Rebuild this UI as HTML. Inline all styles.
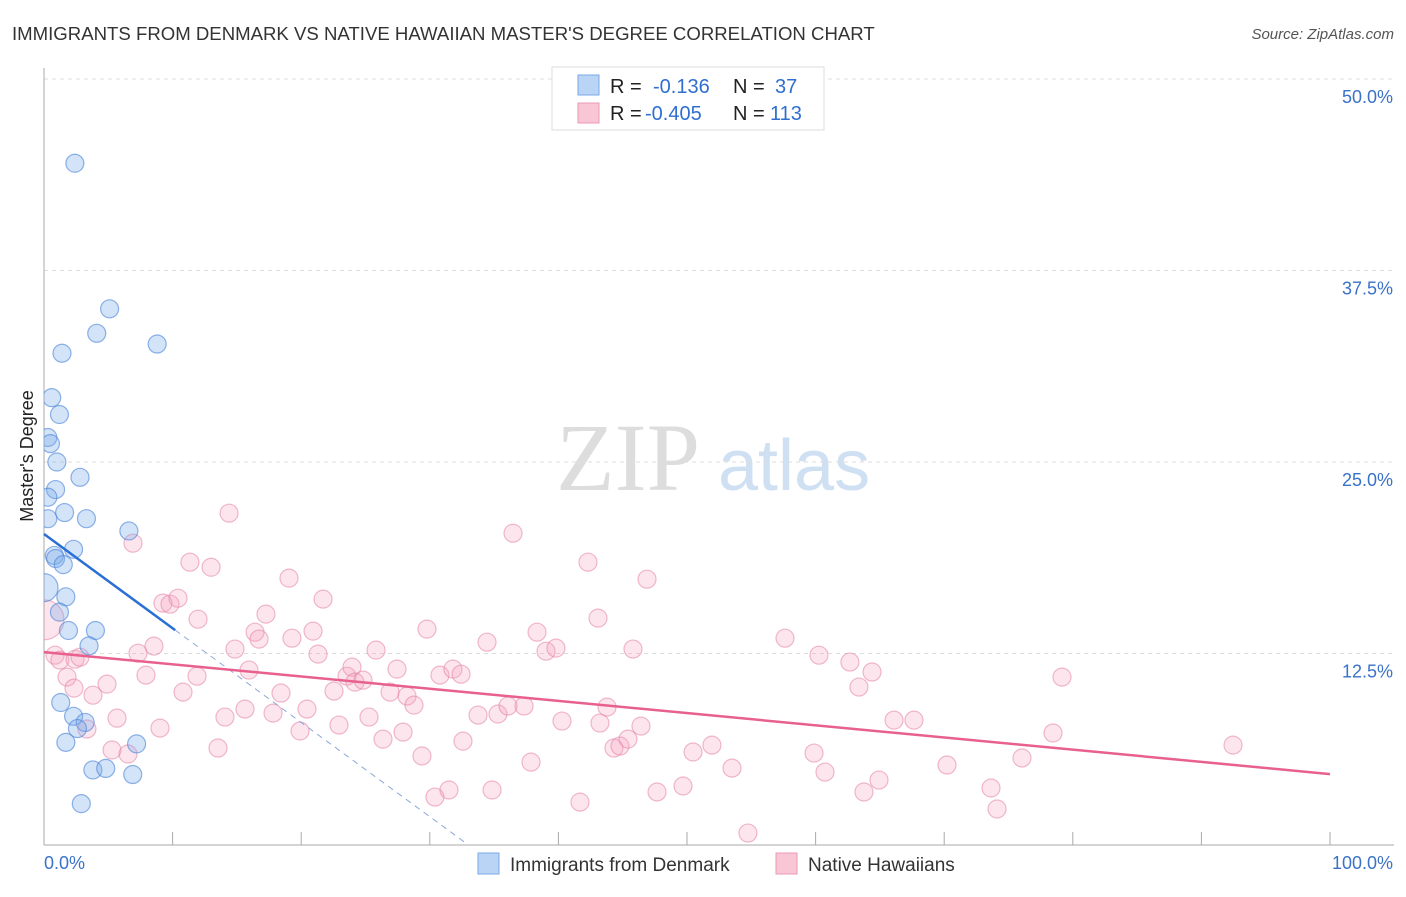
<!DOCTYPE html>
<html><head><meta charset="utf-8">
<style>
body{margin:0;background:#fff;font-family:"Liberation Sans",sans-serif;}
svg text{font-family:"Liberation Sans",sans-serif;}
</style></head>
<body>
<svg id="chart" width="1406" height="892">
<defs><clipPath id="plotclip"><rect x="44" y="60" width="1360" height="785"/></clipPath></defs>
<text x="12" y="40" font-size="18.6" fill="#333">IMMIGRANTS FROM DENMARK VS NATIVE HAWAIIAN MASTER'S DEGREE CORRELATION CHART</text>
<text x="1394" y="39" font-size="15" fill="#555" text-anchor="end" font-style="italic">Source: ZipAtlas.com</text>
<text x="700" y="490" font-size="96" fill="#ddd" text-anchor="end" style="font-family:'Liberation Serif',serif">ZIP</text>
<text x="718" y="490" font-size="72" fill="#cfe0f3">atlas</text>
<text transform="translate(33,456) rotate(-90)" font-size="18" fill="#222" text-anchor="middle">Master's Degree</text>
<g id="grid"></g><g id="axes"></g><g id="marks" clip-path="url(#plotclip)"></g><g id="trends"></g>
<g>
<rect x="552" y="67" width="272" height="63" fill="#fff" stroke="#ddd"/>
<rect x="578" y="75" width="21" height="20" fill="#b9d4f5" stroke="#7aaae6"/>
<rect x="578" y="103" width="21" height="20" fill="#f9c6d6" stroke="#eb9ab6"/>
<text x="610" y="93" font-size="20" fill="#222">R =</text><text x="653" y="93" font-size="20" fill="#2f6fd0">-0.136</text>
<text x="733" y="93" font-size="20" fill="#222">N =</text><text x="775" y="93" font-size="20" fill="#2f6fd0">37</text>
<text x="610" y="120" font-size="20" fill="#222">R =</text><text x="645" y="120" font-size="20" fill="#2f6fd0">-0.405</text>
<text x="733" y="120" font-size="20" fill="#222">N =</text><text x="770" y="120" font-size="20" fill="#2f6fd0">113</text>
</g>
<g>
<rect x="478" y="853" width="21" height="21" fill="#b9d4f5" stroke="#7aaae6"/>
<text x="510" y="871" font-size="19" fill="#333">Immigrants from Denmark</text>
<rect x="776" y="853" width="21" height="21" fill="#f9c6d6" stroke="#eb9ab6"/>
<text x="808" y="871" font-size="19" fill="#333">Native Hawaiians</text>
</g>
</svg>
<script>
const yTicks=[12.5,25.0,37.5,50.0];
const yTickLabels=["12.5%","25.0%","37.5%","50.0%"];
const xTicks=[0,10,20,30,40,50,60,70,80,90,100];
const xTickLabels=["0.0%","100.0%"];
const blueX=[2.4,5.1,4.1,8.8,1.4,0.6,1.2,0.3,0.5,1.0,2.8,0.9,0.3,1.6,3.3,0.3,6.6,2.3,0.8,0.9,1.5,0.0,1.7,1.2,1.9,4.0,3.5,1.3,2.3,3.2,2.6,1.7,7.2,3.8,4.8,6.9,2.9];
const blueY=[44.5,35.0,33.4,32.7,32.1,29.2,28.1,26.6,26.2,25.0,24.0,23.2,22.7,21.7,21.3,21.3,20.5,19.3,18.9,18.7,18.3,16.8,16.2,15.2,14.0,14.0,13.0,9.3,8.4,8.0,7.6,6.7,6.6,4.9,5.0,4.6,2.7];
const blueR=[9,9,9,9,9,9,9,9,9,9,9,9,9,9,9,9,9,9,9,9,9,14,9,9,9,9,9,9,9,9,9,9,9,9,9,9,9];
const pinkX=[0,0.86,1.24,2.41,2.8,1.79,2.33,3.81,4.9,3.34,5.68,5.29,6.53,7.93,8.55,9.02,7.31,6.92,9.25,9.8,10.42,11.35,11.98,12.99,10.81,11.9,14.39,13.53,14.07,14.85,15.63,15.94,16.41,16.72,17.26,17.81,18.43,19.05,19.28,19.91,20.45,20.92,21.31,21.7,22.55,22.94,23.56,23.95,24.18,24.81,25.27,25.82,26.36,26.91,27.45,27.92,28.23,28.77,29.39,29.78,30.4,30.79,31.49,31.8,32.43,32.58,33.75,34.45,34.84,35.3,36.08,36.47,37.33,37.87,38.34,39.04,39.81,40.28,41.68,42.3,43.08,43.23,43.78,44.32,44.79,45.41,45.8,46.42,46.89,47.67,49.69,50.47,51.94,53.5,54.74,57.62,59.88,60.26,60.73,62.67,63.37,63.76,64.39,64.93,66.1,67.65,70.22,73.64,74.11,76.05,78.46,79.16,92.46];
const pinkY=[14.7,12.39,12.07,12.13,12.26,10.96,10.24,9.78,10.5,7.57,8.28,6.2,5.94,11.09,12.98,7.63,12.52,19.7,15.79,15.72,16.11,18.46,14.74,18.13,9.98,11.02,21.66,6.33,8.35,12.79,8.87,11.42,13.89,13.44,15.07,8.61,9.92,17.42,13.5,7.44,8.87,13.96,12.46,16.05,10.05,7.83,11.02,11.61,10.63,10.76,8.35,12.72,6.91,9.98,11.48,7.37,9.72,9.13,5.81,14.09,3.13,11.09,3.59,11.48,11.15,6.78,8.48,13.24,3.59,8.55,9.07,20.35,9.07,5.41,13.89,12.65,12.85,8.09,2.8,18.46,14.81,7.96,9.0,6.33,6.46,6.91,12.79,7.76,17.35,3.46,3.85,6.07,6.52,5.02,0.78,13.5,6.0,12.39,4.76,11.94,10.31,3.46,11.29,4.24,8.15,8.15,5.22,3.72,2.35,5.68,7.31,10.96,6.52];
const blueTrend=[20.3,-0.615];
const pinkTrend=[12.59,-0.0796];
const NS="http://www.w3.org/2000/svg";
const X0=44,X1=1330,Y0=845,Y50=79;
function sx(v){return X0+(X1-X0)*v/100;}
function sy(v){return Y0-(Y0-Y50)*v/50;}
function mk(tag,attrs,parent){const e=document.createElementNS(NS,tag);for(const k in attrs)e.setAttribute(k,attrs[k]);document.getElementById(parent).appendChild(e);return e;}
yTicks.forEach((t,i)=>{
 const l=mk('line',{x1:X0,x2:1394,y1:sy(t),y2:sy(t),stroke:'#ddd','stroke-dasharray':'4,4'},'grid');
 
 
 const tx=mk('text',{x:1393,y:sy(t)+24,'font-size':18,fill:'#3a72c8','text-anchor':'end'},'grid');
 tx.textContent=yTickLabels[i];
 
 
});
const ax=mk('line',{x1:X0,x2:1394,y1:Y0,y2:Y0,stroke:'#aaa'},'axes');


const ay=mk('line',{x1:X0,x2:X0,y1:68,y2:Y0,stroke:'#aaa'},'axes');


xTicks.forEach(t=>{const l=mk('line',{x1:sx(t),x2:sx(t),y1:Y0-13,y2:Y0,stroke:'#aaa'},'axes');
 
 });
const xl0=mk('text',{x:44,y:869,'font-size':18,fill:'#3a72c8'},'axes');xl0.textContent=xTickLabels[0];


const xl1=mk('text',{x:1393,y:869,'font-size':18,fill:'#3a72c8','text-anchor':'end'},'axes');xl1.textContent=xTickLabels[1];


pinkX.forEach((v,i)=>{const c=mk('circle',{cx:sx(v),cy:sy(pinkY[i]),r:i===0?20:9,fill:'rgba(244,160,190,0.28)',stroke:'rgba(228,130,165,0.55)','stroke-width':1.2},'marks');
 
 });
blueX.forEach((v,i)=>{const c=mk('circle',{cx:sx(v),cy:sy(blueY[i]),r:blueR[i],fill:'rgba(120,170,235,0.33)',stroke:'rgba(70,130,215,0.6)','stroke-width':1.2},'marks');
 
 });
const bEnd=10.2, bZero=-blueTrend[0]/blueTrend[1];
const bl=mk('line',{x1:sx(0),y1:sy(blueTrend[0]),x2:sx(bEnd),y2:sy(blueTrend[0]+blueTrend[1]*bEnd),stroke:'#2a6fd6','stroke-width':2.5},'trends');


const bd=mk('line',{x1:sx(bEnd),y1:sy(blueTrend[0]+blueTrend[1]*bEnd),x2:sx(bZero),y2:sy(0),stroke:'#8aa8d8','stroke-width':1,'stroke-dasharray':'6,5'},'trends');


const pl=mk('line',{x1:sx(0),y1:sy(pinkTrend[0]),x2:sx(100),y2:sy(pinkTrend[0]+pinkTrend[1]*100),stroke:'#e8608e','stroke-width':2.5},'trends');


</script>
</body></html>
